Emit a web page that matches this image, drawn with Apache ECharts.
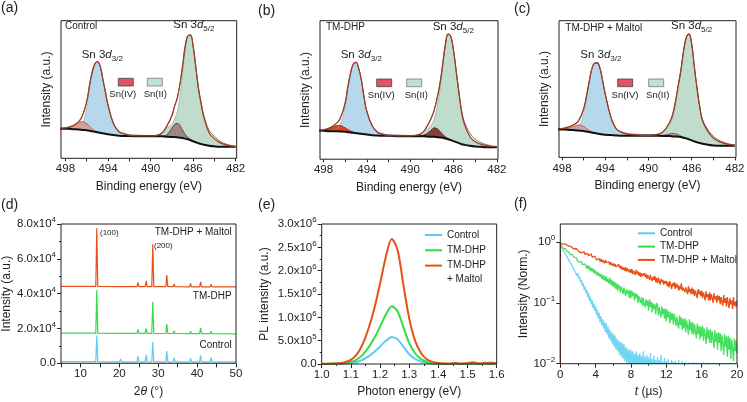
<!DOCTYPE html>
<html><head><meta charset="utf-8">
<script src="https://cdn.jsdelivr.net/npm/echarts@6/dist/echarts.min.js"></script>
<style>html,body{margin:0;padding:0;background:#fff}#c{width:747px;height:402px}</style>
</head><body><div id="c"></div>
<script>
const FONT = "'Liberation Sans', Arial, Helvetica, sans-serif";
const INK = '#222';
const _ = null;

// ---------- XPS (a)(b)(c): binding-energy grid (eV) ----------
const beGrid = [498.5,498,497.5,497,496.5,496,495.75,495.5,495.25,495,494.75,494.5,494.25,494,493.5,493,492.5,492,491,490,489,488.5,488,487.75,487.5,487.25,487,486.75,486.5,486.25,486,485.75,485.5,485.25,485,484.5,484,483.5,483,482.5,482];
const xpsLabelValues = [482,486,490,494,498];
const xpsTickValues = [482,484,486,488,490,492,494,496,498];

// (a) Control
const aBackground = [89,89,88,87,86,84,83,81,80,78,77,75,74,72,70,68,67,67,66,66,66,65,64,64,63,62,61,59,57,54,51,48,45,43,41,38,36,35,35,35,35];
const aEnvelope   = [89,91,95,103,122,170,218,257,283,290,278,240,200,160,105,80,73,69,67,67,74,95,128,155,180,220,275,335,368,370,338,275,210,165,125,77,59,47,41,37,35];
const aRaw        = [90,92,96,104,121,171,217,258,282,291,277,241,199,161,106,82,75,71,69,68,75,96,127,156,179,221,274,336,367,371,337,276,212,168,130,84,66,52,44,39,36];
const aSnII32     = [89,89,89,89,98,150,205,250,280,289,278,240,200,160,105,80,72,68,66,_,_,_,_,_,_,_,_,_,_,_,_,_,_,_,_,_,_,_,_,_,_];
const aSnIV32     = [89,90,94,102,110,104,96,88,83,79,77,_,_,_,_,_,_,_,_,_,_,_,_,_,_,_,_,_,_,_,_,_,_,_,_,_,_,_,_,_,_];
const aSnII52     = [_,_,_,_,_,_,_,_,_,_,_,_,_,_,_,_,_,_,_,67,73,90,102,118,138,183,251,322,362,367,338,275,210,165,125,77,59,47,41,37,35];
const aSnIV52     = [_,_,_,_,_,_,_,_,_,_,_,_,_,_,_,_,_,_,_,66,66,70,90,101,105,99,85,72,63,57,52,48,_,_,_,_,_,_,_,_,_];

// (b) TM-DHP
const bBackground = [85,85,84,84,83,82,81,80,79,78,77,76,75,74,72,71,70,70,69,69,69,68,67,67,66,65,64,62,60,57,54,51,48,45,43,40,38,37,36,36,36];
const bEnvelope   = [86,88,93,102,120,168,218,258,286,290,272,236,185,143,100,80,74,71,70,70,76,96,127,152,185,228,285,345,375,368,325,262,198,140,105,68,52,45,41,38,37];
const bRaw        = [87,89,92,103,119,169,217,259,285,291,271,237,184,144,101,82,76,73,72,71,77,95,128,151,186,227,286,344,376,367,326,263,200,145,112,78,60,50,44,40,38];
const bSnII32     = [86,86,86,87,102,156,210,253,284,289,272,236,185,143,100,80,74,71,70,_,_,_,_,_,_,_,_,_,_,_,_,_,_,_,_,_,_,_,_,_,_];
const bSnIV32     = [86,87,91,99,101,94,89,85,81,79,77,_,_,_,_,_,_,_,_,_,_,_,_,_,_,_,_,_,_,_,_,_,_,_,_,_,_,_,_,_,_];
const bSnII52     = [_,_,_,_,_,_,_,_,_,_,_,_,_,_,_,_,_,_,_,70,75,88,105,125,160,210,275,340,373,367,324,262,198,140,105,68,52,45,41,38,37];
const bSnIV52     = [_,_,_,_,_,_,_,_,_,_,_,_,_,_,_,_,_,_,_,69,70,76,89,94,91,83,74,67,62,58,55,_,_,_,_,_,_,_,_,_,_];

// (c) TM-DHP + Maltol
const cBackground = [84,84,83,82,81,79,78,76,75,73,72,70,69,68,67,66,65,65,65,65,65,64,64,63,63,62,61,59,57,54,51,48,45,43,41,38,36,35,35,35,35];
const cEnvelope   = [84,86,90,97,108,145,182,225,265,282,284,268,232,190,123,86,75,70,67,66,70,82,108,130,168,215,262,320,360,370,340,270,205,150,110,78,58,48,42,38,36];
const cRaw        = [85,87,91,96,109,146,181,226,264,283,283,269,231,191,124,88,77,72,69,68,71,83,107,131,167,216,261,321,359,371,339,271,207,153,114,83,64,52,45,40,37];
const cSnII32     = [84,85,86,87,92,131,173,220,263,281,284,268,232,190,123,86,75,70,67,_,_,_,_,_,_,_,_,_,_,_,_,_,_,_,_,_,_,_,_,_,_];
const cSnIV32     = [84,85,87,92,97,93,87,81,77,74,72,_,_,_,_,_,_,_,_,_,_,_,_,_,_,_,_,_,_,_,_,_,_,_,_,_,_,_,_,_,_];
const cSnII52     = [_,_,_,_,_,_,_,_,_,_,_,_,_,_,_,_,_,_,_,66,70,79,101,121,160,209,259,319,360,370,340,270,205,150,110,78,58,48,42,38,36];
const cSnIV52     = [_,_,_,_,_,_,_,_,_,_,_,_,_,_,_,_,_,_,_,65,65,67,71,72,71,68,64,60,_,_,_,_,_,_,_,_,_,_,_,_,_];

// ---------- XRD (d) ----------
const xrdTheta  = [5,13.95,14.2,14.45,20.05,20.3,20.55,24.55,24.8,25.05,26.65,26.9,27.15,28.35,28.6,28.85,31.95,32.2,32.45,33.85,34.1,34.35,38.05,38.3,38.55,40.65,40.9,41.15,43.35,43.6,43.85,50];
const xrdControl = [1000,950,16000,900,850,2500,850,850,4200,850,850,4800,850,900,12400,900,850,7100,850,800,3200,800,800,3000,800,800,4600,800,800,3200,800,800];
const xrdTMDHP   = [17300,17300,42000,17300,17200,17800,17200,17200,19500,17200,17200,20100,17200,17200,35400,17200,17100,22600,17100,17100,18500,17100,17000,18500,17000,17000,20300,17000,17000,18500,17000,16900];
const xrdMaltol  = [44200,44200,77500,44100,44000,44800,44000,44000,46500,44000,44000,47400,44000,44000,68400,44000,44000,50700,44000,44000,45500,44000,43900,45900,43900,43900,46700,43900,43900,45500,43900,43900];

// ---------- PL (e) ----------
const plEnergy  = [1.00,1.02,1.04,1.06,1.08,1.10,1.12,1.14,1.16,1.18,1.20,1.22,1.24,1.26,1.28,1.30,1.32,1.34,1.36,1.38,1.40,1.42,1.44,1.46,1.48,1.50,1.52,1.54,1.56,1.58,1.60];
const plControl = [1e3,1.5e3,2e3,4e3,9e3,2.0e4,4.4e4,9.1e4,1.63e5,2.56e5,3.72e5,4.97e5,5.8e5,5.3e5,3.7e5,2.1e5,1.08e5,5.2e4,2.2e4,1.0e4,5e3,3e3,2e3,6e3,2e3,5e3,8e3,3e3,1.2e4,4e4,3e3];
const plTMDHP   = [2e3,3e3,5e3,9e3,1.9e4,4.2e4,9.3e4,1.95e5,3.5e5,5.5e5,8.0e5,1.06e6,1.24e6,1.13e6,7.9e5,4.5e5,2.3e5,1.1e5,4.7e4,2.0e4,1.0e4,6e3,4e3,1.0e4,3e3,8e3,1.2e4,5e3,1.0e4,4e3,9e3];
const plMaltol  = [4e3,6e3,1.0e4,1.8e4,4.0e4,9.0e4,2.0e5,4.2e5,7.5e5,1.18e6,1.72e6,2.30e6,2.68e6,2.45e6,1.70e6,9.8e5,5.0e5,2.4e5,1.0e5,4.5e4,2.0e4,1.2e4,8e3,2.0e4,6e3,1.8e4,3.5e4,1.0e4,2.8e4,1.2e4,2.2e4];

// ---------- TRPL (f): 0.1 us channels ----------
const trplTime = [
 0,0.1,0.2,0.3,0.4,0.5,0.6,0.7,0.8,0.9, 1,1.1,1.2,1.3,1.4,1.5,1.6,1.7,1.8,1.9,
 2,2.1,2.2,2.3,2.4,2.5,2.6,2.7,2.8,2.9, 3,3.1,3.2,3.3,3.4,3.5,3.6,3.7,3.8,3.9,
 4,4.1,4.2,4.3,4.4,4.5,4.6,4.7,4.8,4.9, 5,5.1,5.2,5.3,5.4,5.5,5.6,5.7,5.8,5.9,
 6,6.1,6.2,6.3,6.4,6.5,6.6,6.7,6.8,6.9, 7,7.1,7.2,7.3,7.4,7.5,7.6,7.7,7.8,7.9,
 8,8.1,8.2,8.3,8.4,8.5,8.6,8.7,8.8,8.9, 9,9.1,9.2,9.3,9.4,9.5,9.6,9.7,9.8,9.9,
 10,10.1,10.2,10.3,10.4,10.5,10.6,10.7,10.8,10.9, 11,11.1,11.2,11.3,11.4,11.5,11.6,11.7,11.8,11.9,
 12,12.1,12.2,12.3,12.4,12.5,12.6,12.7,12.8,12.9, 13,13.1,13.2,13.3,13.4,13.5,13.6,13.7,13.8,13.9,
 14,14.1,14.2,14.3,14.4,14.5,14.6,14.7,14.8,14.9, 15,15.1,15.2,15.3,15.4,15.5,15.6,15.7,15.8,15.9,
 16,16.1,16.2,16.3,16.4,16.5,16.6,16.7,16.8,16.9, 17,17.1,17.2,17.3,17.4,17.5,17.6,17.7,17.8,17.9,
 18,18.1,18.2,18.3,18.4,18.5,18.6,18.7,18.8,18.9, 19,19.1,19.2,19.3,19.4,19.5,19.6,19.7,19.8,19.9,
 20];
const trplControl = [
 0.95,0.90,0.82,0.80,0.72,0.71,0.63,0.63,0.56,0.56,
 0.55,0.47,0.49,0.42,0.43,0.37,0.38,0.32,0.34,0.28,
 0.31,0.25,0.27,0.22,0.24,0.19,0.21,0.165,0.185,0.145,
 0.165,0.125,0.145,0.108,0.128,0.095,0.112,0.083,0.099,0.074,
 0.088,0.063,0.077,0.056,0.069,0.048,0.061,0.043,0.054,0.038,
 0.049,0.033,0.046,0.03,0.041,0.026,0.036,0.024,0.033,0.021,
 0.031,0.019,0.029,0.017,0.026,0.016,0.024,0.014,0.023,0.013,
 0.022,0.012,0.021,0.011,0.019,0.0105,0.018,0.0095,0.017,0.009,
 0.017,0.0085,0.016,0.009,0.0145,0.008,0.016,0.0085,0.014,0.0075,
 0.015,0.008,0.0135,0.007,0.016,0.0075,0.013,0.0065,0.014,0.007,
 0.0125,0.0065,0.015,0.007,0.012,0.006,0.0135,0.0065,0.0115,0.006,
 0.013,0.006,0.0115,0.0055,0.014,0.006,0.011,0.0055,0.0125,0.006,
 0.011,0.0055,0.012,0.005,0.0105,0.0055,0.0115,0.005,0.0108,0.005,
 0.0112,0.005,0.0104,0.005,0.0115,0.005,0.0102,0.005,0.011,0.005,
 0.0104,0.005,0.0108,0.005,0.0101,0.005,0.0106,0.005,0.0103,0.005,
 0.0107,0.005,0.0102,0.005,0.0105,0.005,0.0101,0.005,0.0104,0.005,
 0.0102,0.005,0.0106,0.005,0.0101,0.005,0.0103,0.005,0.0105,0.005,
 0.0101,0.005,0.0104,0.005,0.0102,0.005,0.0101,0.005,0.0103,0.005,
 0.0102,0.005,0.0101,0.005,0.0104,0.005,0.0101,0.005,0.0102,0.005,
 0.0101,0.005,0.0103,0.005,0.0101,0.005,0.0102,0.005,0.0101,0.005,
 0.0102];
const trplTMDHP = [
 0.90,0.86,0.85,0.80,0.82,0.77,0.78,0.72,0.74,0.69,
 0.68,0.63,0.65,0.60,0.62,0.57,0.59,0.54,0.56,0.51,
 0.53,0.47,0.50,0.45,0.48,0.43,0.46,0.41,0.44,0.40,
 0.37,0.42,0.36,0.40,0.34,0.38,0.33,0.37,0.31,0.35,
 0.34,0.29,0.33,0.28,0.31,0.27,0.30,0.25,0.29,0.24,
 0.28,0.23,0.27,0.22,0.25,0.21,0.26,0.20,0.24,0.19,
 0.23,0.18,0.22,0.17,0.21,0.16,0.20,0.18,0.15,0.19,
 0.19,0.14,0.18,0.15,0.13,0.17,0.14,0.16,0.12,0.165,
 0.12,0.16,0.13,0.15,0.11,0.145,0.12,0.14,0.10,0.13,
 0.135,0.10,0.125,0.09,0.12,0.095,0.085,0.115,0.09,0.11,
 0.075,0.115,0.085,0.105,0.07,0.10,0.08,0.095,0.065,0.10,
 0.09,0.062,0.085,0.07,0.058,0.088,0.065,0.08,0.055,0.082,
 0.05,0.078,0.058,0.072,0.046,0.07,0.052,0.068,0.044,0.066,
 0.065,0.042,0.06,0.045,0.038,0.062,0.043,0.058,0.036,0.055,
 0.038,0.056,0.033,0.052,0.04,0.03,0.054,0.036,0.049,0.031,
 0.048,0.03,0.045,0.034,0.026,0.046,0.031,0.042,0.025,0.041,
 0.028,0.042,0.024,0.038,0.03,0.021,0.04,0.026,0.036,0.022,
 0.037,0.022,0.034,0.025,0.018,0.036,0.023,0.032,0.017,0.033,
 0.022,0.032,0.016,0.03,0.021,0.014,0.031,0.019,0.028,0.013,
 0.029,0.017,0.027,0.012,0.025,0.018,0.011,0.026,0.016,0.024,
 0.015];
const trplMaltol = [
 0.97,0.95,0.97,0.93,0.94,0.91,0.93,0.89,0.90,0.87,
 0.86,0.82,0.85,0.80,0.83,0.78,0.82,0.76,0.79,0.77,
 0.75,0.70,0.74,0.69,0.67,0.72,0.66,0.70,0.63,0.67,
 0.61,0.66,0.60,0.63,0.58,0.64,0.57,0.61,0.53,0.59,
 0.56,0.51,0.55,0.50,0.54,0.48,0.53,0.47,0.51,0.49,
 0.45,0.51,0.46,0.49,0.44,0.48,0.42,0.47,0.44,0.41,
 0.45,0.40,0.44,0.39,0.42,0.37,0.43,0.38,0.41,0.36,
 0.40,0.35,0.38,0.34,0.39,0.33,0.37,0.35,0.32,0.36,
 0.31,0.36,0.30,0.34,0.32,0.29,0.35,0.30,0.33,0.28,
 0.32,0.27,0.31,0.28,0.26,0.31,0.27,0.30,0.25,0.29,
 0.28,0.24,0.29,0.25,0.23,0.27,0.24,0.28,0.22,0.26,
 0.21,0.26,0.23,0.20,0.25,0.22,0.24,0.20,0.23,0.21,
 0.23,0.19,0.22,0.18,0.23,0.20,0.17,0.21,0.19,0.22,
 0.17,0.21,0.18,0.20,0.16,0.19,0.17,0.21,0.16,0.18,
 0.19,0.15,0.18,0.16,0.14,0.19,0.15,0.17,0.14,0.18,
 0.14,0.17,0.13,0.16,0.15,0.12,0.17,0.14,0.16,0.13,
 0.16,0.12,0.15,0.13,0.11,0.155,0.125,0.14,0.11,0.15,
 0.11,0.14,0.12,0.10,0.145,0.115,0.13,0.10,0.135,0.11,
 0.13,0.095,0.125,0.105,0.09,0.135,0.10,0.12,0.088,0.125,
 0.10,0.082,0.12,0.095,0.11,0.08,0.125,0.09,0.105,0.085,
 0.11];
const trplPreTrigger = 0.005; // signal before the laser pulse (below the axis)

// ---------- colours ----------
const C_CONTROL = '#5ccdf2', C_TMDHP = '#33dd44', C_MALTOL = '#e8501a';
const seriesNames = ['Control', 'TM-DHP', 'TM-DHP + Maltol'];

function pairs(xs, ys) { const out = []; for (let i = 0; i < xs.length; i++) { if (ys[i] !== null && ys[i] !== undefined) out.push([xs[i], ys[i]]); } return out; }

const gridRects = [
  {left: 61, top: 20.7, width: 175.7, height: 137.6},
  {left: 320, top: 20.7, width: 178, height: 138.5},
  {left: 559, top: 20.7, width: 177, height: 136.7},
  {left: 61, top: 224, width: 175, height: 139.3},
  {left: 321.7, top: 224, width: 175, height: 140},
  {left: 560.3, top: 224, width: 176.7, height: 139.7}
];
const grids = gridRects.map(g => Object.assign({show: true, borderColor: INK, borderWidth: 1, backgroundColor: 'transparent', z: 10, containLabel: false, outerBoundsMode: 'none'}, g));

const tickStyle = {show: true, inside: false, length: 4, lineStyle: {color: INK, width: 1}};
const minorStyle = {show: true, splitNumber: 2, length: 2, lineStyle: {color: INK, width: 1}};
const nameStyle = {fontSize: 12, fontFamily: FONT, color: INK};
const labelBase = {fontSize: 11.5, fontFamily: FONT, color: INK};
const supRich = {
  n: {fontSize: 11.5, fontFamily: FONT, color: INK, lineHeight: 16},
  s: {fontSize: 8, fontFamily: FONT, color: INK, lineHeight: 8, verticalAlign: 'top'}
};
function sciLabel(v) {
  if (v === 0) return '{n|0.0}';
  const e = Math.floor(Math.log10(v) + 1e-9);
  const m = v / Math.pow(10, e);
  return '{n|' + m.toFixed(1) + 'x10}{s|' + e + '}';
}
function logLabel(v) {
  const l = Math.log10(v), r = Math.round(l);
  if (Math.abs(l - r) > 1e-6) return '';
  return '{n|10}{s|' + (r < 0 ? '\u2212' + (-r) : String(r)) + '}';
}

function xpsX(i, maxv) {
  return {gridIndex: i, type: 'value', inverse: true, min: 481.9, max: maxv,
    name: 'Binding energy (eV)', nameLocation: 'middle', nameGap: 22, nameTextStyle: nameStyle,
    axisLine: {show: false, onZero: false}, splitLine: {show: false},
    axisTick: Object.assign({}, tickStyle, {length: 3, customValues: xpsTickValues}),
    axisLabel: Object.assign({}, labelBase, {margin: 5, customValues: xpsLabelValues})};
}
function xpsY(i, maxv) {
  return {gridIndex: i, type: 'value', min: 0, max: maxv,
    name: 'Intensity (a.u.)', nameLocation: 'middle', nameGap: 8, nameTextStyle: nameStyle,
    axisLine: {show: false}, splitLine: {show: false}, axisTick: {show: false}, axisLabel: {show: false}};
}

const xAxes = [
  xpsX(0, 498.42), xpsX(1, 498.32), xpsX(2, 498.28),
  {gridIndex: 3, type: 'value', min: 5, max: 50, interval: 5,
    name: '2{it|\u03b8} (\u00b0)', nameLocation: 'middle', nameGap: 22,
    nameTextStyle: Object.assign({}, nameStyle, {rich: {it: {fontSize: 12, fontFamily: FONT, color: INK, fontStyle: 'italic'}}}),
    axisLine: {show: false, onZero: false}, splitLine: {show: false}, axisTick: tickStyle,
    axisLabel: Object.assign({}, labelBase, {margin: 5, formatter: v => (v % 10 === 0 ? String(v) : '')})},
  {gridIndex: 4, type: 'value', min: 1.0, max: 1.6, interval: 0.1,
    name: 'Photon energy (eV)', nameLocation: 'middle', nameGap: 22, nameTextStyle: nameStyle,
    axisLine: {show: false, onZero: false}, splitLine: {show: false}, axisTick: tickStyle, minorTick: minorStyle,
    axisLabel: Object.assign({}, labelBase, {margin: 5, formatter: v => v.toFixed(1)})},
  {gridIndex: 5, type: 'value', min: 0, max: 20, interval: 4,
    name: '{it|t} (\u00b5s)', nameLocation: 'middle', nameGap: 22,
    nameTextStyle: Object.assign({}, nameStyle, {rich: {it: {fontSize: 12, fontFamily: FONT, color: INK, fontStyle: 'italic'}}}),
    axisLine: {show: false, onZero: false}, splitLine: {show: false}, axisTick: tickStyle, minorTick: minorStyle,
    axisLabel: Object.assign({}, labelBase, {margin: 5})}
];
const yAxes = [
  xpsY(0, 413), xpsY(1, 415), xpsY(2, 410),
  {gridIndex: 3, type: 'value', min: 0, max: 80000, interval: 20000,
    name: 'Intensity (a.u.)', nameLocation: 'middle', nameGap: 44, nameTextStyle: nameStyle,
    axisLine: {show: false, onZero: false}, splitLine: {show: false}, axisTick: tickStyle, minorTick: minorStyle,
    axisLabel: {margin: 5, formatter: sciLabel, rich: supRich}},
  {gridIndex: 4, type: 'value', min: 0, max: 3000000, interval: 500000,
    name: 'PL intensity (a.u.)', nameLocation: 'middle', nameGap: 51, nameTextStyle: nameStyle,
    axisLine: {show: false, onZero: false}, splitLine: {show: false}, axisTick: tickStyle, minorTick: minorStyle,
    axisLabel: {margin: 5, formatter: sciLabel, rich: supRich}},
  {gridIndex: 5, type: 'log', logBase: 10, min: 0.01, max: 2,
    name: 'Intensity (Norm.)', nameLocation: 'middle', nameGap: 30, nameTextStyle: nameStyle,
    axisLine: {show: false, onZero: false}, splitLine: {show: false}, axisTick: tickStyle,
    axisLabel: {margin: 5, formatter: logLabel, rich: supRich, showMaxLabel: false}}
];

function xpsSeries(i, d, st) {
  const base = {type: 'line', xAxisIndex: i, yAxisIndex: i, showSymbol: false, symbol: 'none', smooth: 0.4, silent: true};
  return [
    Object.assign({}, base, {data: pairs(beGrid, d.ii52), lineStyle: {width: 0.6, color: '#7f9f8f'}, areaStyle: {color: '#bfdccc', opacity: 1}}),
    Object.assign({}, base, {data: pairs(beGrid, d.ii32), lineStyle: {width: 0.6, color: '#86a9c0'}, areaStyle: {color: '#b5d8ec', opacity: 1}}),
    Object.assign({}, base, {data: pairs(beGrid, d.iv52), lineStyle: {width: 0.8, color: st.iv52Line}, areaStyle: {color: st.iv52Fill, opacity: 1}}),
    Object.assign({}, base, {data: pairs(beGrid, d.iv32), lineStyle: {width: 0.8, color: st.iv32Line}, areaStyle: {color: st.iv32Fill, opacity: 1}}),
    Object.assign({}, base, {data: pairs(beGrid, d.bg), lineStyle: {width: 2, color: '#111'}, areaStyle: {color: '#ffffff', opacity: 1}}),
    Object.assign({}, base, {data: pairs(beGrid, d.raw), lineStyle: {width: 0.7, color: '#333'}}),
    Object.assign({}, base, {data: pairs(beGrid, d.env), lineStyle: {width: 1.2, color: '#a33a1c'}})
  ];
}

function curve(name, color, xi, xs, ys, width, smooth, extra) {
  return {name, type: 'line', xAxisIndex: xi, yAxisIndex: xi, showSymbol: false, symbol: 'none', smooth: smooth, silent: true,
    data: (extra || []).concat(pairs(xs, ys)), itemStyle: {color}, lineStyle: {color, width}};
}

const series = [].concat(
  xpsSeries(0, {bg: aBackground, env: aEnvelope, raw: aRaw, ii32: aSnII32, iv32: aSnIV32, ii52: aSnII52, iv52: aSnIV52},
    {iv32Fill: '#d9a096', iv32Line: '#d23a20', iv52Fill: '#a08686', iv52Line: '#4a3030'}),
  xpsSeries(1, {bg: bBackground, env: bEnvelope, raw: bRaw, ii32: bSnII32, iv32: bSnIV32, ii52: bSnII52, iv52: bSnIV52},
    {iv32Fill: '#e0441e', iv32Line: '#9a2410', iv52Fill: '#8a3f3f', iv52Line: '#3a1a1a'}),
  xpsSeries(2, {bg: cBackground, env: cEnvelope, raw: cRaw, ii32: cSnII32, iv32: cSnIV32, ii52: cSnII52, iv52: cSnIV52},
    {iv32Fill: '#cfa3a0', iv32Line: '#d8401e', iv52Fill: '#b99a9a', iv52Line: '#6a4040'}),
  [
    curve('Control', C_CONTROL, 3, xrdTheta, xrdControl, 1.2, false),
    curve('TM-DHP', C_TMDHP, 3, xrdTheta, xrdTMDHP, 1.2, false),
    curve('TM-DHP + Maltol', C_MALTOL, 3, xrdTheta, xrdMaltol, 1.2, false),
    curve('Control', C_CONTROL, 4, plEnergy, plControl, 2, 0.3),
    curve('TM-DHP', C_TMDHP, 4, plEnergy, plTMDHP, 2, 0.3),
    curve('TM-DHP + Maltol', C_MALTOL, 4, plEnergy, plMaltol, 2, 0.3),
    curve('Control', '#72d6f2', 5, trplTime, trplControl, 1.3, false),
    curve('TM-DHP', '#45e060', 5, trplTime, trplTMDHP, 1.3, false),
    curve('TM-DHP + Maltol', C_MALTOL, 5, trplTime, trplMaltol, 1.3, false, [[0, trplPreTrigger]])
  ]
);

const legendBase = {orient: 'vertical', icon: 'rect', itemWidth: 17, itemHeight: 2, padding: 0, selectedMode: false,
  data: seriesNames, textStyle: {fontSize: 10, fontFamily: FONT, color: INK, lineHeight: 12}, itemStyle: {borderWidth: 0}};
const legends = [
  Object.assign({}, legendBase, {left: 425, top: 229, itemGap: 3.3, formatter: n => (n === 'TM-DHP + Maltol' ? 'TM-DHP' : n)}),
  Object.assign({}, legendBase, {left: 638, top: 227.3, itemGap: 1.3})
];

const snRich = {
  b: {fontSize: 11.5, fontFamily: FONT, fill: INK, lineHeight: 16},
  i: {fontSize: 11.5, fontFamily: FONT, fill: INK, fontStyle: 'italic', lineHeight: 16},
  sb: {fontSize: 8, fontFamily: FONT, fill: INK, lineHeight: 8, verticalAlign: 'bottom'}
};
function txt(x, y, text, size, align, rich) {
  const style = {text, fill: INK, fontSize: size, fontFamily: FONT, align: align || 'left', verticalAlign: 'middle',
    textAlign: align || 'left', textVerticalAlign: 'middle'};
  if (rich) style.rich = rich;
  return {type: 'text', x, y, z: 100, silent: true, style};
}
function swatch(x, y, fill, stroke) {
  return {type: 'rect', z: 100, silent: true, shape: {x, y, width: 15, height: 7.7}, style: {fill, stroke, lineWidth: 0.8}};
}
const PINK = '#e2506e', MINT = '#bfe3d2';
const graphics = [
  txt(1, 8, '(a)', 14), txt(258, 11, '(b)', 14), txt(514, 9, '(c)', 14),
  txt(1, 205, '(d)', 14), txt(258, 205.5, '(e)', 14), txt(514, 204, '(f)', 14),
  txt(65, 26, 'Control', 10),
  txt(81.7, 55, '{b|Sn 3}{i|d}{sb|3/2}', 11.5, 'left', snRich),
  txt(173.3, 25, '{b|Sn 3}{i|d}{sb|5/2}', 11.5, 'left', snRich),
  txt(326, 27.5, 'TM-DHP', 10),
  txt(340.7, 55, '{b|Sn 3}{i|d}{sb|3/2}', 11.5, 'left', snRich),
  txt(432.7, 27, '{b|Sn 3}{i|d}{sb|5/2}', 11.5, 'left', snRich),
  txt(565.3, 28, 'TM-DHP + Maltol', 10),
  txt(580.3, 55, '{b|Sn 3}{i|d}{sb|3/2}', 11.5, 'left', snRich),
  txt(671, 26, '{b|Sn 3}{i|d}{sb|5/2}', 11.5, 'left', snRich),
  swatch(118.3, 78.3, PINK, '#444'), swatch(147.3, 78.3, MINT, '#777'),
  txt(122.8, 94.3, 'Sn(IV)', 9.5, 'center'), txt(155.3, 94.3, 'Sn(II)', 9.5, 'center'),
  swatch(376.7, 79, PINK, '#444'), swatch(406.7, 79, MINT, '#777'),
  txt(381.3, 95.7, 'Sn(IV)', 9.5, 'center'), txt(416.3, 95.7, 'Sn(II)', 9.5, 'center'),
  swatch(617.7, 79, PINK, '#444'), swatch(648.7, 79, MINT, '#777'),
  txt(625, 95, 'Sn(IV)', 9.5, 'center'), txt(657.7, 95, 'Sn(II)', 9.5, 'center'),
  txt(100, 232.3, '(100)', 8), txt(154, 245.7, '(200)', 8),
  txt(231.7, 232.3, 'TM-DHP + Maltol', 10, 'right'),
  txt(231.7, 296.7, 'TM-DHP', 10, 'right'),
  txt(231.7, 345, 'Control', 10, 'right'),
  txt(447, 279, '+ Maltol', 10)
];

const chart = echarts.init(document.getElementById('c'), null, {renderer: 'canvas'});
chart.setOption({
  animation: false,
  backgroundColor: '#ffffff',
  textStyle: {fontFamily: FONT},
  grid: grids,
  xAxis: xAxes,
  yAxis: yAxes,
  legend: legends,
  series: series,
  graphic: {elements: graphics}
});
</script>
</body></html>
